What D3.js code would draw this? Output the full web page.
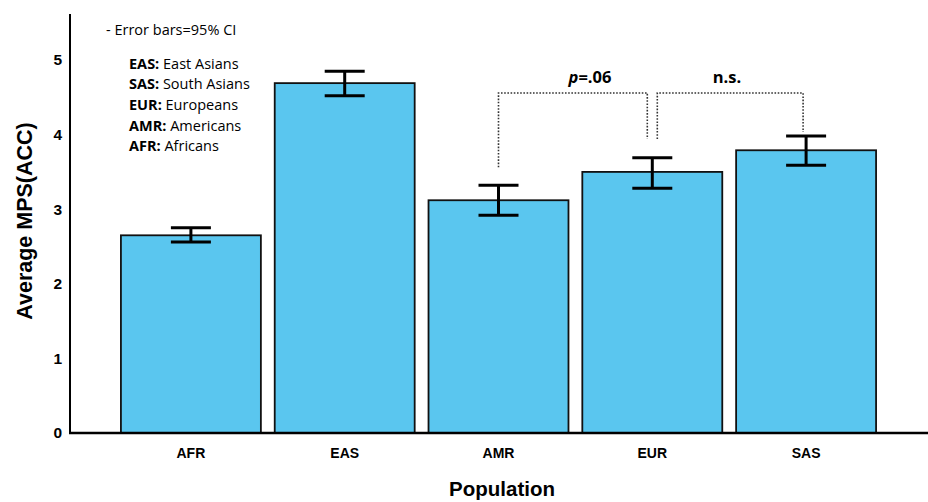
<!DOCTYPE html>
<html><head><meta charset="utf-8">
<script src="https://cdn.jsdelivr.net/npm/d3@7"></script>
<style>body{margin:0;background:#fff}svg{display:block}</style>
</head><body>
<svg id="c" width="928" height="502"></svg>
<script>
const categories = ["AFR","EAS","AMR","EUR","SAS"];
const means = [2.65, 4.69, 3.12, 3.50, 3.79];
const ciLow = [2.56, 4.52, 2.92, 3.28, 3.59];
const ciHigh = [2.75, 4.85, 3.32, 3.69, 3.98];
const yTicks = [0,1,2,3,4,5];
const legendLines = [["EAS:"," East Asians"],["SAS:"," South Asians"],["EUR:"," Europeans"],["AMR:"," Americans"],["AFR:"," Africans"]];

const svg = d3.select("#c");
const x = d3.scaleBand().domain(categories).range([114, 883]).paddingInner(0.09).paddingOuter(0.045);
const y = d3.scaleLinear().domain([0, 5]).range([433, 60]);
const af = "Liberation Sans, Arial, sans-serif";

// bars
svg.append("g").selectAll("rect").data(categories).join("rect")
  .attr("x", d => x(d)).attr("width", x.bandwidth())
  .attr("y", (d,i) => y(means[i])).attr("height", (d,i) => y(0) - y(means[i]))
  .attr("fill", "#5ac6ef").attr("stroke", "#111").attr("stroke-width", 1.8);

// error bars
const eb = svg.append("g").attr("stroke", "#000").attr("stroke-width", 3);
categories.forEach((c,i) => {
  const cx = x(c) + x.bandwidth()/2;
  eb.append("line").attr("x1", cx).attr("x2", cx).attr("y1", y(ciLow[i])).attr("y2", y(ciHigh[i]));
  eb.append("line").attr("x1", cx-20).attr("x2", cx+20).attr("y1", y(ciLow[i])).attr("y2", y(ciLow[i]));
  eb.append("line").attr("x1", cx-20).attr("x2", cx+20).attr("y1", y(ciHigh[i])).attr("y2", y(ciHigh[i]));
});

// axes
const yAxis = svg.append("g").attr("transform", "translate(70,0)")
  .call(d3.axisLeft(y).tickValues(yTicks).tickSize(0).tickPadding(8).tickFormat(d3.format("d")));
yAxis.select(".domain").remove();
yAxis.selectAll("text").attr("font-family", af).attr("font-weight", "bold").attr("font-size", 15.5).attr("fill", "#000");
svg.append("line").attr("x1", 70).attr("x2", 70).attr("y1", 14).attr("y2", 434).attr("stroke", "#000").attr("stroke-width", 2);

const xAxis = svg.append("g").attr("transform", "translate(0,433)")
  .call(d3.axisBottom(x).tickSize(0).tickPadding(15));
xAxis.select(".domain").remove();
xAxis.selectAll("text").attr("font-family", af).attr("font-weight", "bold").attr("font-size", 14).attr("fill", "#000");
svg.append("line").attr("x1", 69).attr("x2", 928).attr("y1", 433).attr("y2", 433).attr("stroke", "#000").attr("stroke-width", 2.5);

// axis titles
svg.append("text").attr("transform", "translate(32,221) rotate(-90)").attr("text-anchor", "middle")
  .attr("font-family", af).attr("font-weight", "bold").attr("font-size", 21.5).text("Average MPS(ACC)");
svg.append("text").attr("x", 502).attr("y", 496).attr("text-anchor", "middle")
  .attr("font-family", af).attr("font-weight", "bold").attr("font-size", 20.5).text("Population");

// legend notes
const lf = "Open Sans, Lato, sans-serif";
svg.append("text").attr("x", 106).attr("y", 35).attr("font-family", lf).attr("font-size", 14.5).text("- Error bars=95% CI");
legendLines.forEach((l,i) => {
  const t = svg.append("text").attr("x", 129).attr("y", 68.5 + i*20.7).attr("font-family", lf).attr("font-size", 14.5);
  t.append("tspan").attr("font-weight", "bold").text(l[0]);
  t.append("tspan").text(l[1]);
});

// significance brackets
const bg = svg.append("g").attr("fill", "none").attr("stroke", "#333").attr("stroke-width", 1.6).attr("stroke-dasharray", "1.6,1.6");
const topY = 93;
const ctr = c => x(c) + x.bandwidth()/2;
bg.append("path").attr("d", `M${ctr("AMR")},${y(ciHigh[2]) - 18}V${topY}H${ctr("EUR")-5}V139`);
bg.append("path").attr("d", `M${ctr("EUR")+5},139V${topY}H${ctr("SAS")-3}V132`);
const lab = svg.append("g").attr("font-family", lf).attr("font-weight", "bold").attr("font-size", 16.5).attr("text-anchor", "middle");
const t1 = lab.append("text").attr("x", 590).attr("y", 83);
t1.append("tspan").attr("font-style", "italic").text("p");
t1.append("tspan").text("=.06");
lab.append("text").attr("x", 727).attr("y", 83).text("n.s.");
</script>
</body></html>
